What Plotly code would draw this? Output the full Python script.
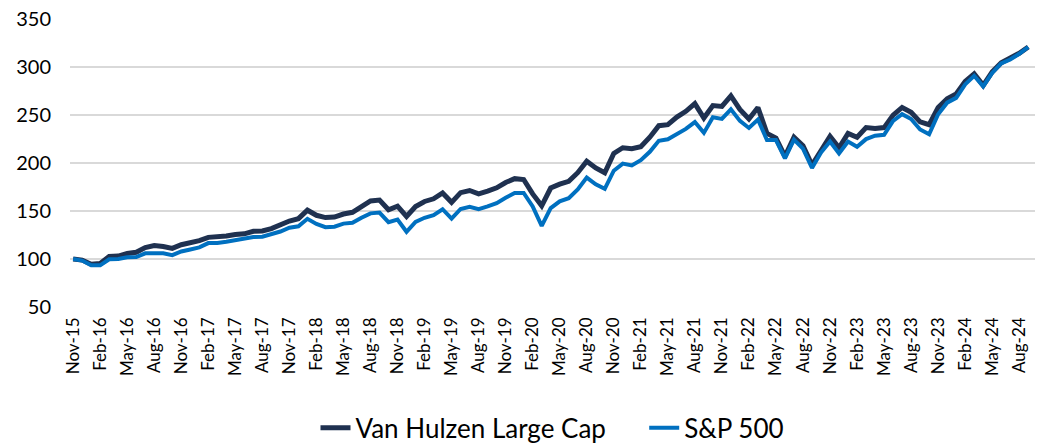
import plotly.graph_objects as go

months = []
mnames = ["Jan", "Feb", "Mar", "Apr", "May", "Jun", "Jul", "Aug", "Sep", "Oct", "Nov", "Dec"]
for y in range(2015, 2025):
    for i, m in enumerate(mnames):
        if (y == 2015 and i < 10) or (y == 2024 and i > 8):
            continue
        months.append(f"{m}-{str(y)[2:]}")

van_hulzen = [
    100, 98.9, 94.6, 95.4, 102.7, 103.1, 105.8, 107.1, 111.9, 114.0, 113.0, 111.1,
    114.9, 117.0, 119.2, 122.6, 122.7, 124.0, 125.6, 126.3, 128.9, 129.2, 131.7, 135.7,
    139.6, 142.1, 150.9, 145.6, 143.2, 143.7, 146.9, 148.7, 155.0, 160.6, 161.4, 151.4,
    155.1, 144.4, 154.7, 160.0, 162.8, 168.9, 159.1, 169.2, 171.4, 167.9, 170.8, 174.2,
    179.8, 183.8, 182.9, 167.9, 155.5, 174.0, 178.0, 181.0, 190.0, 202.0, 195.0, 190.0,
    210.0, 216.0, 215.0, 217.0, 227.0, 239.0, 240.0, 248.0, 254.0, 262.0, 247.0, 260.0,
    259.0, 270.0, 256.0, 246.0, 258.0, 231.0, 226.0, 207.0, 227.0, 218.0, 198.0, 214.0,
    228.0, 216.0, 231.0, 227.0, 237.0, 236.0, 237.0, 250.0, 258.0, 253.0, 243.0, 240.0,
    258.0, 267.0, 272.0, 285.0, 293.0, 281.0, 295.0, 304.5, 309.0, 314.5, 321.0,
]

sp500 = [
    100, 98.4, 93.6, 93.4, 99.7, 100.1, 101.8, 102.1, 105.9, 106.0, 106.0, 104.1,
    107.9, 110.0, 112.2, 116.6, 116.7, 118.0, 119.6, 120.3, 122.9, 123.2, 125.7, 128.7,
    132.6, 134.1, 141.9, 136.6, 133.2, 133.7, 136.9, 137.7, 143.0, 147.6, 148.4, 138.4,
    141.1, 128.4, 138.7, 143.0, 145.8, 151.9, 142.1, 152.2, 154.4, 151.9, 154.8, 158.2,
    163.8, 168.8, 168.9, 154.9, 134.5, 153.1, 160.2, 163.4, 172.6, 184.9, 177.9, 173.2,
    192.1, 199.5, 197.5, 203.0, 211.8, 223.2, 224.8, 230.1, 235.6, 242.8, 231.5, 247.8,
    246.1, 256.0, 244.0, 236.6, 245.4, 224.1, 224.0, 205.0, 224.5, 215.0, 195.0, 211.0,
    222.5, 210.0, 222.5, 217.0, 225.0, 228.5, 229.5, 244.0, 251.0, 246.0, 235.0, 230.0,
    251.0, 263.0, 268.0, 282.0, 291.0, 280.0, 294.0, 304.0, 308.0, 314.0, 321.0,
]

tick_labels = months[::3]
y_ticks = [50, 100, 150, 200, 250, 300, 350]

FONT = "Lato, Carlito, Calibri, sans-serif"
NB = "\u00a0"

fig = go.Figure()
fig.add_trace(go.Scatter(
    x=months, y=van_hulzen, mode="lines", name="Van Hulzen Large Cap" + NB * 5,
    line=dict(color="#1F3150", width=5),
))
fig.add_trace(go.Scatter(
    x=months, y=sp500, mode="lines", name="S&P 500",
    line=dict(color="#0070C0", width=4),
))

fig.update_layout(
    width=1047, height=443,
    margin=dict(l=70, r=12, t=19, b=136, autoexpand=False),
    paper_bgcolor="white", plot_bgcolor="white",
    font=dict(family=FONT, color="#000000"),
    showlegend=True,
    legend=dict(
        orientation="h", x=0.5, xanchor="center",
        yref="container", y=0.034, yanchor="middle",
        font=dict(size=26, family=FONT),
    ),
    xaxis=dict(
        type="category", categoryorder="array", categoryarray=months,
        range=[-0.35, len(months) - 0.25], automargin=False,
        tickmode="array", tickvals=tick_labels, ticktext=tick_labels,
        tickangle=-90, tickfont=dict(size=17, family=FONT), ticklabelstandoff=6,
        showgrid=False, showline=False, ticks="",
    ),
    yaxis=dict(
        range=[50, 350.2], tickvals=y_ticks,
        showgrid=True, gridcolor="#D9D9D9", gridwidth=1.5, automargin=False,
        zeroline=False, showline=False, ticks="",
        tickfont=dict(size=20, family=FONT), ticklabelstandoff=18,
    ),
)

fig.write_html(
    "out.html",
    config={"displayModeBar": False},
    post_script="document.body.style.margin='0';document.body.style.overflow='hidden';",
)
